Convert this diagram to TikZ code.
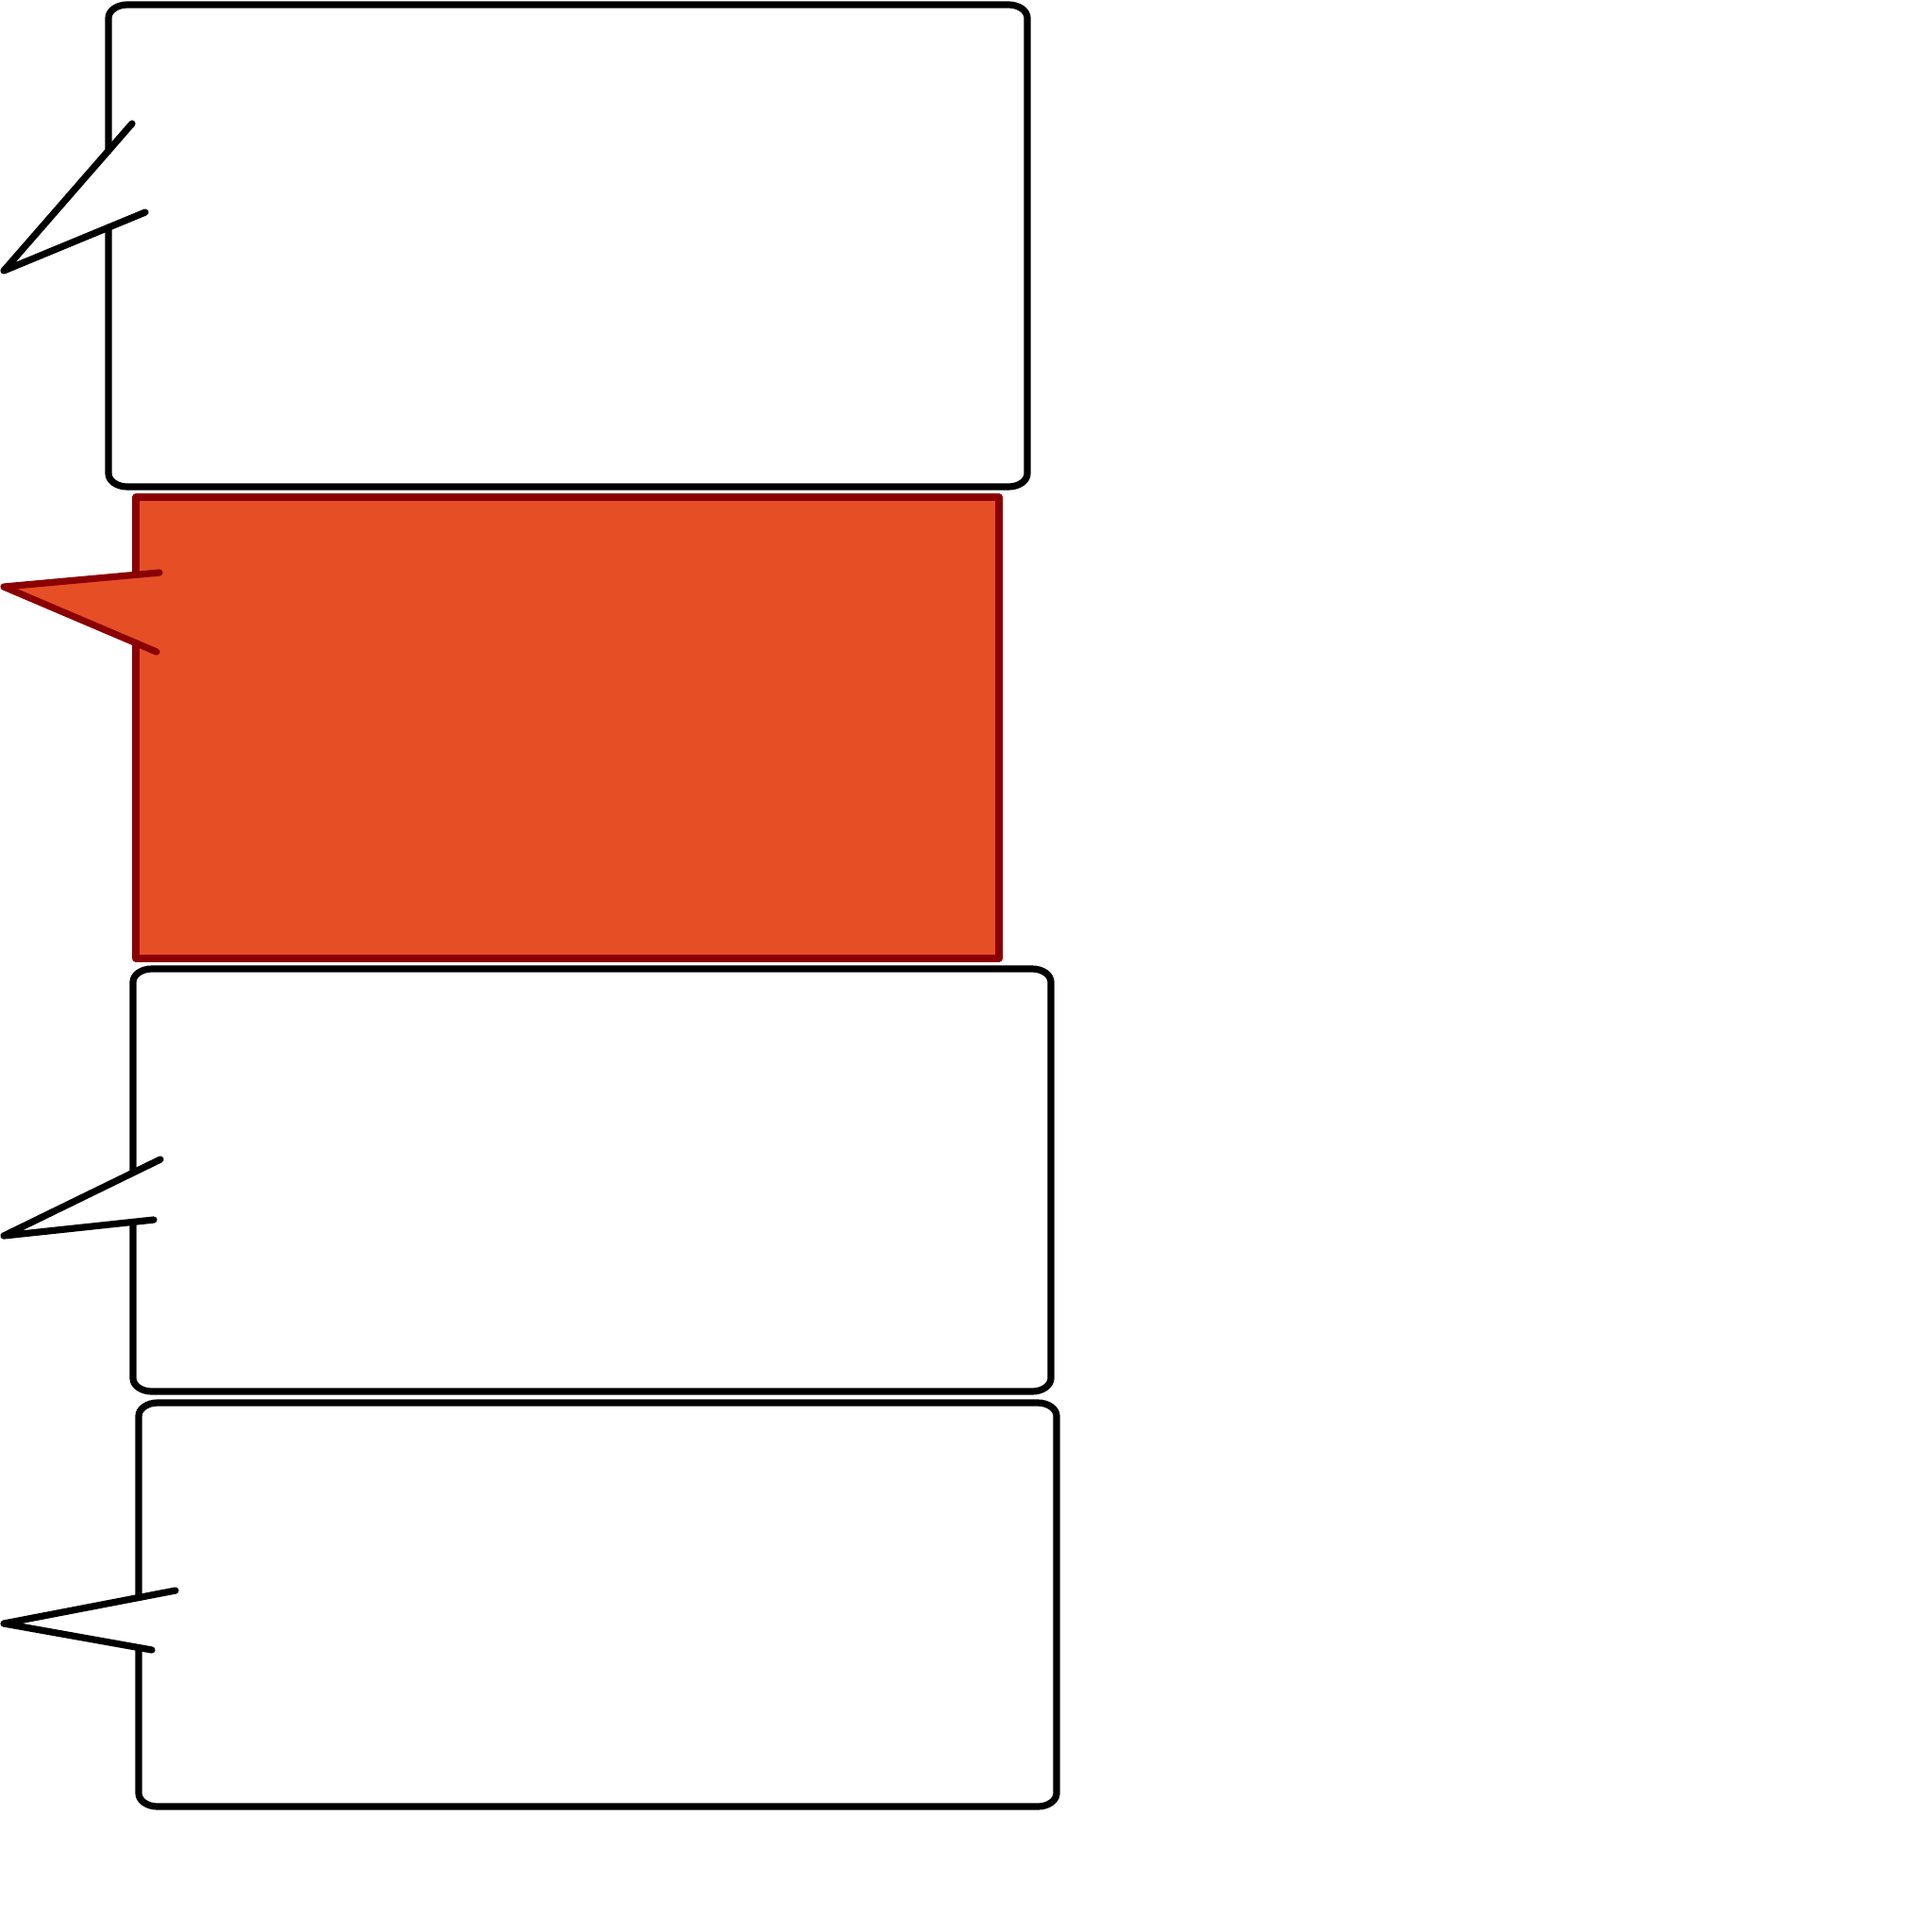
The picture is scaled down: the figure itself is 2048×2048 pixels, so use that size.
\documentclass[tikz,border=0pt]{standalone}
\definecolor{calloutred}{RGB}{230,79,38}
\definecolor{calloutedge}{RGB}{139,0,0}
\tikzset{
  boxline/.style={line width=0.072cm, line cap=round, line join=round},
  pointerline/.style={line width=0.072cm, line cap=round, line join=round},
}
% #1 left, #2 top, #3 right, #4 bottom, #5 upper gap end, #6 lower gap end
\newcommand\calloutoutline[6]{%
  \draw[boxline] (#1,#6) -- (#1,#4-14)
    .. controls (#1,#4-6.3) and (#1+9,#4) .. (#1+20,#4)
    -- (#3-20,#4) .. controls (#3-9,#4) and (#3,#4-6.3) .. (#3,#4-14)
    -- (#3,#2+14) .. controls (#3,#2+6.3) and (#3-9,#2) .. (#3-20,#2)
    -- (#1+20,#2) .. controls (#1+9,#2) and (#1,#2+6.3) .. (#1,#2+14) -- (#1,#5);}
\begin{document}
\begin{tikzpicture}[x=0.01cm,y=-0.01cm]
\useasboundingbox (0,0) rectangle (2048,2048);
% callout 1
\coordinate (t1) at (4,287);
\coordinate (u1) at (140,131);
\coordinate (l1) at (154,225);
\calloutoutline{115}{5}{1089}{516}{160}{241}
\draw[pointerline] (u1) -- (t1) -- (l1);
% callout 2 (highlighted)
\coordinate (t2) at (4,622);
\coordinate (u2) at (169,607);
\coordinate (l2) at (166,691);
\fill[calloutred] (144,527) -- (1059,527) -- (1059,1016) -- (144,1016) -- (144,681.6) -- (t2) -- (144,609.3) -- cycle;
\draw[pointerline, calloutedge] (144,681.6) -- (144,1016) -- (1059,1016) -- (1059,527) -- (144,527) -- (144,609.3);
\draw[pointerline, calloutedge] (u2) -- (t2) -- (l2);
% callout 3
\coordinate (t3) at (4,1310);
\coordinate (u3) at (170,1229);
\coordinate (l3) at (163,1293);
\calloutoutline{141}{1027}{1114}{1475}{1243}{1295.4}
\draw[pointerline] (u3) -- (t3) -- (l3);
% callout 4
\coordinate (t4) at (4,1721);
\coordinate (u4) at (186,1686);
\coordinate (l4) at (161,1749);
\calloutoutline{147}{1487}{1120}{1915}{1693.5}{1746.5}
\draw[pointerline] (u4) -- (t4) -- (l4);
\end{tikzpicture}
\end{document}
